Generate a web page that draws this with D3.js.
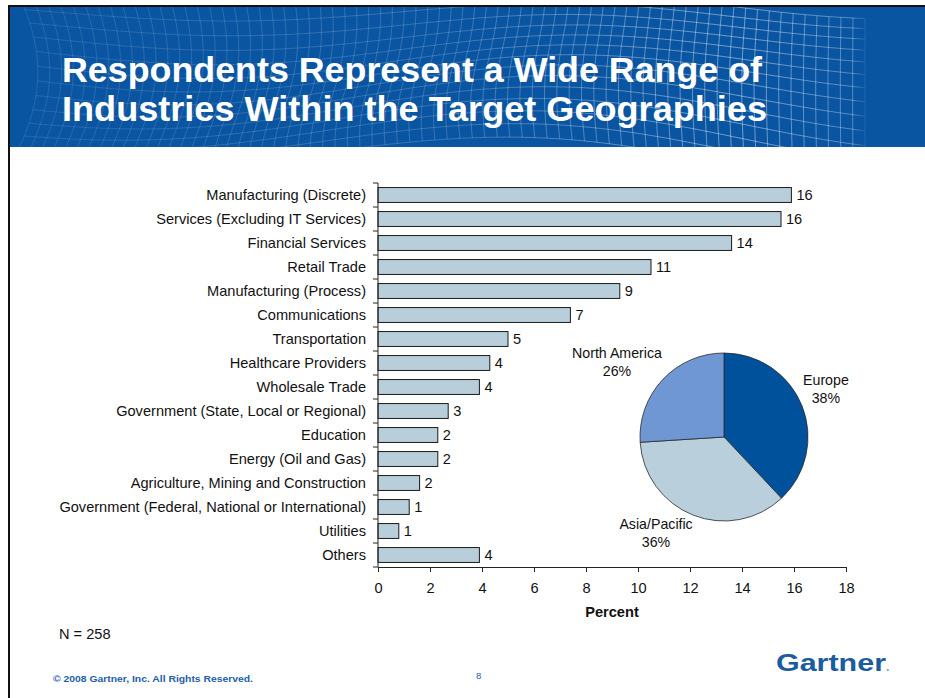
<!DOCTYPE html>
<html>
<head>
<meta charset="utf-8">
<script src="https://cdn.jsdelivr.net/npm/d3@7"></script>
<style>
  html, body { margin: 0; padding: 0; background: #fff; }
  svg { display: block; font-family: "Liberation Sans", Arial, sans-serif; }
</style>
</head>
<body>
<svg id="slide" width="925" height="698"></svg>
<script>
// Industry breakdown (percent of respondents)
const industries = [
  "Manufacturing (Discrete)",
  "Services (Excluding IT Services)",
  "Financial Services",
  "Retail Trade",
  "Manufacturing (Process)",
  "Communications",
  "Transportation",
  "Healthcare Providers",
  "Wholesale Trade",
  "Government (State, Local or Regional)",
  "Education",
  "Energy (Oil and Gas)",
  "Agriculture, Mining and Construction",
  "Government (Federal, National or International)",
  "Utilities",
  "Others"
];
const industryPercent = [15.9, 15.5, 13.6, 10.5, 9.3, 7.4, 5.0, 4.3, 3.9, 2.7, 2.3, 2.3, 1.6, 1.2, 0.8, 3.9];

// Geography breakdown
const regions = ["Europe", "Asia/Pacific", "North America"];
const regionPercent = [38, 36, 26];
const regionColors = ["#00519b", "#b9cfdc", "#6e97d4"];

// Axis ticks
const percentTicks = [0, 2, 4, 6, 8, 10, 12, 14, 16, 18];

const titleLines = ["Respondents Represent a Wide Range of", "Industries Within the Target Geographies"];
const sampleNote = "N = 258";
const copyright = "\u00a9 2008 Gartner, Inc. All Rights Reserved.";
const pageNumber = "8";

const svg = d3.select("#slide");
const W = 925, H = 698;
const FS = 14.6;

svg.append("rect").attr("width", W).attr("height", H).attr("fill", "#fff");

// ---- Header band ----
const header = svg.append("g");
const defs = svg.append("defs");
defs.append("clipPath").attr("id", "hdrClip")
  .append("rect").attr("x", 10).attr("y", 7).attr("width", W - 10).attr("height", 140);

const fade = defs.append("linearGradient").attr("id", "meshFade")
  .attr("gradientUnits", "userSpaceOnUse")
  .attr("x1", 20).attr("x2", 870).attr("y1", 0).attr("y2", 0);
fade.append("stop").attr("offset", "0").attr("stop-color", "#fff").attr("stop-opacity", 0.10);
fade.append("stop").attr("offset", "0.5").attr("stop-color", "#fff").attr("stop-opacity", 0.18);
fade.append("stop").attr("offset", "0.85").attr("stop-color", "#fff").attr("stop-opacity", 0.42);
fade.append("stop").attr("offset", "0.98").attr("stop-color", "#fff").attr("stop-opacity", 0.3);
fade.append("stop").attr("offset", "1").attr("stop-color", "#fff").attr("stop-opacity", 0.0);

header.append("rect").attr("x", 10).attr("y", 7).attr("width", W - 10).attr("height", 140)
  .attr("fill", "#0a55a2");

// warped wire mesh decoration
const mesh = header.append("g").attr("clip-path", "url(#hdrClip)");
const meshX = d3.scaleLinear().domain([0, 1]).range([20, 865]);
const meshY = d3.scaleLinear().domain([0, 1]).range([0, 160]);
function warp(u, v) {
  const x = meshX(u) + 18 * Math.sin(v * Math.PI * 1.2 + u * 3) * (1 - u);
  const y = meshY(v) + 22 * Math.sin(u * Math.PI * 2.2 + 0.6) * (0.4 + 0.6 * u) - 8 * Math.cos(v * 4 + u * 5);
  return [x, y];
}
const line = d3.line().curve(d3.curveBasis);
const cols = 70, rows = 13;
const meshPaths = [];
for (let i = 0; i <= cols; i++) {
  const u = i / cols;
  meshPaths.push(d3.range(0, 1.0001, 0.05).map(v => warp(u, v)));
}
for (let j = 0; j <= rows; j++) {
  const v = j / rows;
  meshPaths.push(d3.range(0, 1.0001, 0.01).map(u => warp(u, v)));
}
mesh.selectAll("path").data(meshPaths).join("path")
  .attr("d", line).attr("fill", "none")
  .attr("stroke", "url(#meshFade)").attr("stroke-width", 1);

// title
header.selectAll("text.title").data(titleLines).join("text")
  .attr("class", "title")
  .attr("x", 62).attr("y", (d, i) => 82 + i * 39)
  .attr("fill", "#fff").attr("font-weight", "bold").attr("font-size", 35)
  .attr("textLength", (d, i) => i === 0 ? 700 : 705)
  .attr("lengthAdjust", "spacingAndGlyphs")
  .text(d => d);

// slide frame
svg.append("path").attr("d", `M9,${H} V6 H${W}`).attr("fill", "none")
  .attr("stroke", "#111").attr("stroke-width", 2);

// ---- Bar chart ----
const x = d3.scaleLinear().domain([0, 18]).range([378, 846]);
const y = d3.scaleBand().domain(industries).range([183, 567])
  .paddingInner(0.38).paddingOuter(0.19);

const chart = svg.append("g");
const rows16 = industries.map((name, i) => ({ name, value: industryPercent[i] }));

chart.selectAll("rect.bar").data(rows16).join("rect")
  .attr("class", "bar")
  .attr("x", x(0)).attr("y", d => y(d.name))
  .attr("width", d => x(d.value) - x(0)).attr("height", y.bandwidth())
  .attr("fill", "#b9cedb").attr("stroke", "#1a1a1a").attr("stroke-width", 1);

chart.selectAll("text.val").data(rows16).join("text")
  .attr("class", "val")
  .attr("x", d => x(d.value) + 5).attr("y", d => y(d.name) + y.bandwidth() / 2)
  .attr("dy", "0.36em").attr("font-size", FS).attr("fill", "#111")
  .text(d => Math.round(d.value));

chart.selectAll("text.cat").data(rows16).join("text")
  .attr("class", "cat")
  .attr("x", 366).attr("y", d => y(d.name) + y.bandwidth() / 2)
  .attr("dy", "0.36em").attr("text-anchor", "end").attr("font-size", FS).attr("fill", "#111")
  .text(d => d.name);

// category axis: line with ticks at band boundaries
const cellTop = d3.range(industries.length + 1)
  .map(i => y(industries[0]) - y.step() * y.paddingInner() / 2 + i * y.step());
chart.append("line").attr("x1", x(0)).attr("x2", x(0))
  .attr("y1", cellTop[0]).attr("y2", cellTop[cellTop.length - 1])
  .attr("stroke", "#222");
chart.selectAll("line.ytick").data(cellTop).join("line")
  .attr("class", "ytick")
  .attr("x1", x(0) - 5).attr("x2", x(0)).attr("y1", d => d).attr("y2", d => d)
  .attr("stroke", "#222");

// percent axis
const xAxis = chart.append("g")
  .attr("transform", `translate(0,${cellTop[cellTop.length - 1]})`)
  .call(d3.axisBottom(x).tickValues(percentTicks).tickSize(5).tickSizeOuter(0).tickPadding(11));
xAxis.select(".domain").attr("stroke", "#222");
xAxis.selectAll(".tick line").attr("stroke", "#222");
xAxis.selectAll(".tick text").attr("font-size", FS).attr("fill", "#111")
  .attr("font-family", "Liberation Sans, Arial, sans-serif");

chart.append("text").attr("x", (x(0) + x(18)) / 2).attr("y", 617)
  .attr("text-anchor", "middle").attr("font-size", FS).attr("font-weight", "bold")
  .attr("fill", "#111").text("Percent");

// ---- Pie ----
const pieR = 84;
const pieG = svg.append("g").attr("transform", "translate(724,437)");
const pie = d3.pie().sort(null).value(d => d.value);
const arc = d3.arc().innerRadius(0).outerRadius(pieR);
const slices = pie(regions.map((r, i) => ({ name: r, value: regionPercent[i], color: regionColors[i] })));

pieG.selectAll("path").data(slices).join("path")
  .attr("d", arc).attr("fill", d => d.data.color)
  .attr("stroke", "#2a2a2a").attr("stroke-width", 0.8);

// labels placed just outside the rim, nearest corner toward the slice
const labG = pieG.selectAll("g.lab").data(slices).join("g").attr("class", "lab");
labG.each(function (d) {
  const g = d3.select(this);
  const lines = [d.data.name, d.data.value + "%"];
  g.selectAll("text").data(lines).join("text")
    .attr("x", 0).attr("y", (t, i) => i * 18)
    .attr("text-anchor", "middle").attr("font-size", 14.2).attr("fill", "#111")
    .text(t => t);
  const bb = this.getBBox();
  const mid = (d.startAngle + d.endAngle) / 2;
  const rl = pieR + 1;
  const ax = Math.sin(mid) * rl, ay = -Math.cos(mid) * rl;
  const cornerX = Math.sin(mid) >= 0 ? bb.x : bb.x + bb.width;
  const cornerY = Math.cos(mid) >= 0 ? bb.y + bb.height : bb.y;
  g.attr("transform", `translate(${ax - cornerX},${ay - cornerY})`);
});

// ---- Footer ----
svg.append("text").attr("x", 59).attr("y", 639).attr("font-size", FS).attr("fill", "#111")
  .text(sampleNote);
svg.append("text").attr("x", 53).attr("y", 681.5).attr("font-size", 9).attr("font-weight", "bold")
  .attr("fill", "#1d5ea8").attr("textLength", 200).attr("lengthAdjust", "spacingAndGlyphs")
  .text(copyright);
svg.append("text").attr("x", 476).attr("y", 679).attr("font-size", 9.5)
  .attr("fill", "#1d5ea8").text(pageNumber);

const logo = svg.append("text").attr("x", 776).attr("y", 671)
  .attr("font-size", 24).attr("font-weight", "bold").attr("fill", "#1b5c9e");
logo.append("tspan").attr("textLength", 110).attr("lengthAdjust", "spacingAndGlyphs").text("Gartner");
logo.append("tspan").attr("fill", "#7d9dc4").attr("font-size", 12).text(".");
</script>
</body>
</html>
